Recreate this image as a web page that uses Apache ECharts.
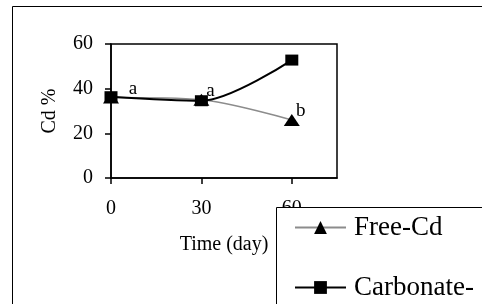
<!DOCTYPE html>
<html>
<head>
<meta charset="utf-8">
<script src="https://cdn.jsdelivr.net/npm/echarts@6/dist/echarts.min.js"></script>
<style>
  html, body { margin: 0; padding: 0; background: #fff; }
  #chart { width: 482px; height: 304px; }
</style>
</head>
<body>
<div id="chart"></div>
<script>
// time in days
var days = [0, 30, 60]
var freeCd = [36, 35, 26]
var carbonateCd = [36.4, 34.6, 52.8]
var letters = ['a', 'a', 'b']
var xTicks = [0, 30, 60]
var yTicks = [0, 20, 40, 60]

var font = 'Liberation Serif'

function pairs(xs, ys) {
  return xs.map(function (x, i) { return [x, ys[i]] })
}

var freeData = pairs(days, freeCd).map(function (p, i) {
  var item = { value: p }
  if (i === 0) {
    item.label = { offset: [22, 12] }
  }
  return item
})

var chart = echarts.init(document.getElementById('chart'))
chart.setOption({
  backgroundColor: '#fff',
  animation: false,
  graphic: [{
    type: 'rect',
    shape: { x: 12.5, y: 6.5, width: 600, height: 400 },
    style: { fill: 'none', stroke: '#000', lineWidth: 1 },
    z: -1
  }, {
    // legend frame, runs past the edge like the original
    type: 'rect',
    shape: { x: 276.5, y: 207.5, width: 400, height: 200 },
    style: { fill: '#fff', stroke: '#000', lineWidth: 1 },
    z: 3
  }],
  grid: {
    left: 111,
    top: 44,
    right: 145,
    bottom: 126,
    show: true,
    borderColor: '#000',
    borderWidth: 1.5,
    backgroundColor: 'transparent'
  },
  legend: {
    orient: 'vertical',
    left: 276,
    top: 207,
    padding: [7, 0, 0, 18],
    itemWidth: 51,
    itemHeight: 16,
    itemGap: 33,
    z: 5,
    textStyle: {
      fontFamily: font,
      fontSize: 27,
      color: '#000',
      padding: [0, 0, 0, 3]
    },
    data: ['Free-Cd', 'Carbonate-']
  },
  xAxis: {
    type: 'value',
    min: 0,
    max: 75,
    interval: 30,
    name: 'Time (day)',
    nameLocation: 'middle',
    nameGap: 57,
    nameTextStyle: { fontFamily: font, fontSize: 20, color: '#000' },
    axisLine: { lineStyle: { color: '#000', width: 1.5 } },
    axisTick: { show: true, length: 6, lineStyle: { color: '#000', width: 1.5 } },
    axisLabel: {
      margin: 21,
      fontFamily: font,
      fontSize: 20,
      color: '#000',
      showMaxLabel: false,
      formatter: function (v) { return xTicks.indexOf(v) >= 0 ? String(v) : '' }
    },
    splitLine: { show: false }
  },
  yAxis: {
    type: 'value',
    min: 0,
    max: 60,
    interval: 20,
    name: 'Cd %',
    nameLocation: 'middle',
    nameGap: 51,
    nameTextStyle: { fontFamily: font, fontSize: 20, color: '#000' },
    axisLine: { show: true, lineStyle: { color: '#000', width: 1.5 } },
    axisTick: { show: true, length: 6, lineStyle: { color: '#000', width: 1.5 } },
    axisLabel: {
      margin: 18,
      fontFamily: font,
      fontSize: 20,
      color: '#000',
      formatter: function (v) { return yTicks.indexOf(v) >= 0 ? String(v) : '' }
    },
    splitLine: { show: false }
  },
  series: [{
    name: 'Free-Cd',
    type: 'line',
    smooth: 0.3,
    symbol: 'triangle',
    symbolSize: [16, 12],
    lineStyle: { color: '#8c8c8c', width: 1.5 },
    itemStyle: { color: '#000' },
    label: {
      show: true,
      position: 'top',
      offset: [9, 12],
      fontFamily: font,
      fontSize: 19,
      color: '#000',
      formatter: function (p) { return letters[p.dataIndex] }
    },
    data: freeData,
    z: 2
  }, {
    name: 'Carbonate-',
    type: 'line',
    smooth: 0.3,
    symbol: 'rect',
    symbolSize: [13, 11],
    lineStyle: { color: '#000', width: 2 },
    itemStyle: { color: '#000' },
    data: pairs(days, carbonateCd),
    z: 3
  }]
})
</script>
</body>
</html>
